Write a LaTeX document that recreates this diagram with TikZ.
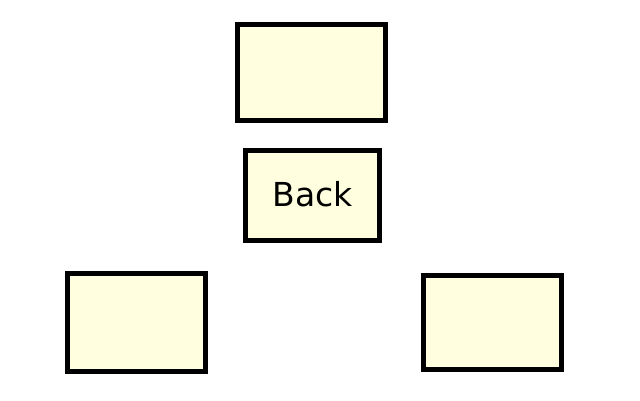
\documentclass[tikz,border=0pt]{standalone}
\usepackage{fontspec}
\setmainfont{DejaVu Sans}
\usepackage{tikz}
\definecolor{noteyellow}{HTML}{FFFFE0}
\tikzset{
    box/.style={shape=rectangle, draw=black, fill=noteyellow, line width=5pt,
        inner sep=0pt, font=\fontsize{33}{40}\selectfont}}

\begin{document}
\begin{tikzpicture}[x=1pt, y=-1pt]
                    \useasboundingbox (0,0) rectangle (640,400);

                    \node[box, minimum width=148pt, minimum height=96pt] (top) at (311.5,72.5) {};
                    \node[box, minimum width=134pt, minimum height=90pt] (back) at (312.5,195.5) {\raisebox{4pt}{Back}\hspace{4pt}};
                    \node[box, minimum width=138pt, minimum height=98pt] (left) at (136.5,322.5) {};
                    \node[box, minimum width=138pt, minimum height=94pt] (right) at (492.5,322.5) {};

                \end{tikzpicture}
\end{document}
